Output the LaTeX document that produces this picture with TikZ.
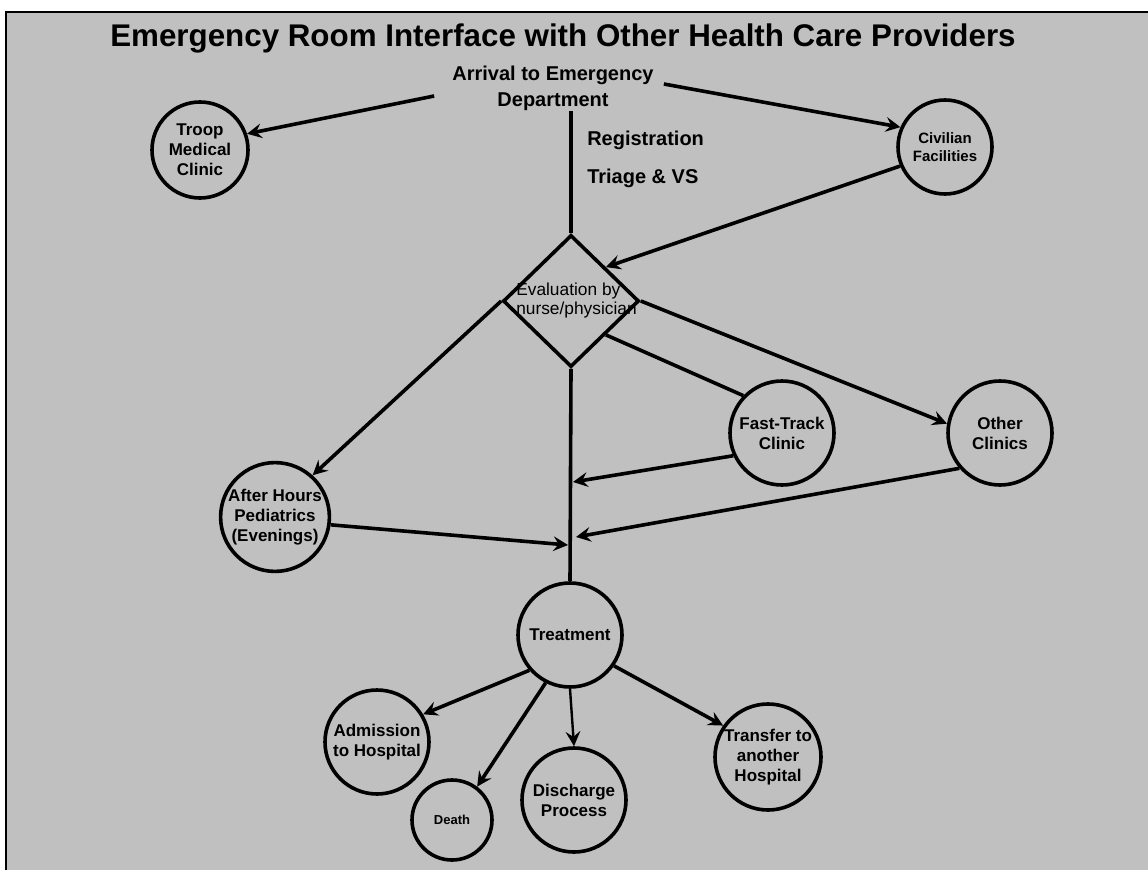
\documentclass[tikz,border=0pt]{standalone}
\usepackage{fontspec}
\setmainfont{Liberation Sans}
\usetikzlibrary{arrows.meta,shapes.geometric}
\definecolor{bg}{RGB}{192,192,192}
\begin{document}
\begin{tikzpicture}[x=0.75pt,y=-0.75pt,
  conn/.style={line width=2.7pt},
  thinconn/.style={line width=1.8pt},
  tip/.style={-{Stealth[length=11pt,width=11pt,inset=4pt]}},
  arr/.style={conn,tip},
  place/.style={circle,draw,line width=2.7pt,inner sep=0pt,align=center,
    font=\fontsize{12.75pt}{15pt}\selectfont\bfseries},
  lbl/.style={inner sep=0pt,font=\fontsize{15pt}{19.5pt}\selectfont\bfseries}
]
\useasboundingbox (0,0) rectangle (1148,870);
\clip (0,0) rectangle (1148,870);
\fill[bg] (6,12) rectangle (1148,870);
\draw[line width=1.5pt] (6,870) -- (6,12) -- (1148,12);

\node[font=\fontsize{23.5pt}{28pt}\selectfont\bfseries] (title) at (563,38)
  {Emergency Room Interface with Other Health Care Providers};
\node[lbl,align=center] (arrival) at (553,88) {Arrival to Emergency\\Department};
\node[lbl,anchor=west] (reg) at (587,140) {Registration};
\node[lbl,anchor=west] (triage) at (587,178) {Triage \& VS};

\node[place,minimum size=72pt] (troop) at (200,150) {Troop\\Medical\\Clinic};
\node[place,minimum size=70.5pt,font=\fontsize{11.25pt}{14pt}\selectfont\bfseries] (civilian) at (945,147) {Civilian\\Facilities};

\node[diamond,draw,line width=2.7pt,inner sep=0pt,aspect=1,
  minimum width=102pt,minimum height=99pt] (eval) at (571,301) {};
\node[anchor=west,align=left,inner sep=0pt,font=\fontsize{13pt}{14.25pt}\selectfont] (evaltext) at (516,301)
  {Evaluation by\\nurse/physician};

\node[place,minimum size=78pt] (fasttrack) at (782,433) {Fast-Track\\Clinic};
\node[place,minimum size=78pt] (other) at (1000,433) {Other\\Clinics};
\node[place,minimum size=79.5pt] (afterhours) at (275,517) {After Hours\\Pediatrics\\(Evenings)};

\node[place,minimum size=78pt] (treatment) at (570,635) {Treatment};
\node[place,minimum size=78pt] (admission) at (377,742) {Admission\\to Hospital};
\node[place,minimum size=60pt,font=\fontsize{9.75pt}{12pt}\selectfont\bfseries] (death) at (452,820) {Death};
\node[place,minimum size=78pt] (discharge) at (574,800) {Discharge\\Process};
\node[place,minimum size=79.5pt] (transfer) at (768,757) {Transfer to\\another\\Hospital};

\coordinate (j1) at (573,482);
\coordinate (j2) at (576,537);
\coordinate (j3) at (568,545);

\draw[arr] ([shift={(-18,8)}]arrival.west) -- (troop.19);
\draw[arr] ([shift={(10,-4)}]arrival.east) -- (civilian.156);
\draw[conn] (eval.north) -- (eval.north |- arrival.south);
\draw[arr] (civilian.203) -- (eval.north east);
\draw[arr] (eval.west) -- (afterhours.48);
\draw[arr] (eval.east) -- (other.170);
\draw[conn] (eval.south east) -- (fasttrack.136);
\draw[conn] (eval.south) -- (treatment.north);
\draw[arr] (fasttrack.205) -- (j1);
\draw[arr] (other.221) -- (j2);
\draw[arr] (afterhours.-8) -- (j3);
\draw[arr] (treatment.221) -- (admission.31);
\draw[arr] (treatment.243) -- (death.53);
\draw[thinconn,tip] (treatment.south) -- (discharge.north);
\draw[arr] (treatment.325) -- (transfer.145);
\end{tikzpicture}
\end{document}
